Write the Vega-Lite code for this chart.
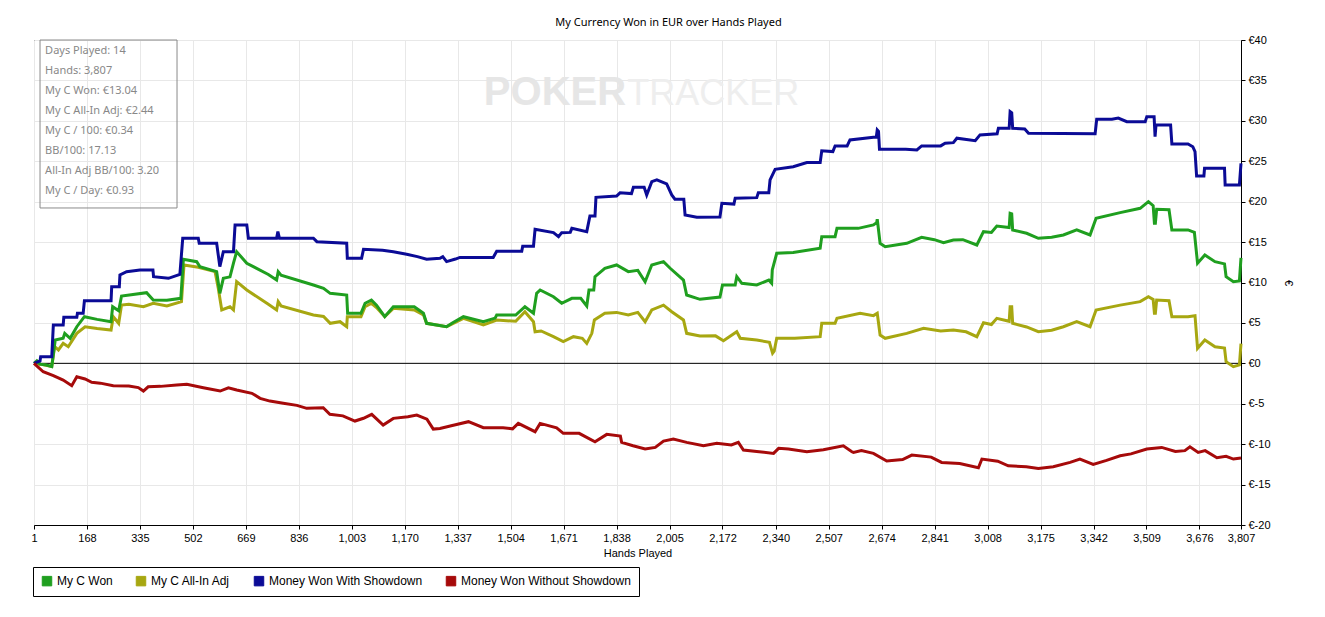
{
  "$schema": "https://vega.github.io/schema/vega-lite/v6.json",
  "width": 1207,
  "height": 485,
  "autosize": "none",
  "padding": {"left": 34, "top": 40, "right": 84, "bottom": 92},
  "background": "white",
  "title": {
    "text": "My Currency Won in EUR over Hands Played",
    "font": "Noto Sans", "fontSize": 11, "fontWeight": "normal", "color": "black",
    "anchor": "middle", "dx": 31, "offset": 6
  },
  "config": {
    "view": {"stroke": "black", "strokeWidth": 1},
    "axis": {
      "gridColor": "#e8e8e8", "domainColor": "black", "tickColor": "black", "tickSize": 4,
      "labelColor": "black", "labelFont": "Liberation Sans", "labelFontSize": 11,
      "titleFont": "Liberation Sans", "titleFontSize": 11, "titleFontWeight": "normal", "titleColor": "black"
    },
    "legend": {
      "orient": "none", "legendX": -1, "legendY": 527, "direction": "horizontal", "columns": 4,
      "columnPadding": 21, "padding": 8, "strokeColor": "black", "fillColor": "white",
      "symbolType": "square", "symbolSize": 90, "labelFont": "Liberation Sans", "labelFontSize": 12,
      "labelColor": "black", "labelOffset": 4, "labelLimit": 0
    }
  },
  "resolve": {"scale": {"y": "independent"}},
  "layer": [
    {
      "layer": [
        {
          "data": {"values": [{}]},
          "mark": {"type": "rule", "color": "black", "strokeWidth": 1},
          "encoding": {"y": {"datum": 0, "type": "quantitative"}}
        },
        {
          "data": {"values": [{}]},
          "mark": {"type": "text", "text": "POKER", "align": "right", "baseline": "alphabetic", "font": "Liberation Sans", "fontSize": 40, "fontWeight": "bold", "color": "#e6e6e6"},
          "encoding": {"x": {"datum": 1868, "type": "quantitative"}, "y": {"datum": 32, "type": "quantitative"}}
        },
        {
          "data": {"values": [{}]},
          "mark": {"type": "text", "text": "TRACKER", "align": "left", "baseline": "alphabetic", "font": "Liberation Sans", "fontSize": 36, "color": "#eeeeee"},
          "encoding": {"x": {"datum": 1872, "type": "quantitative"}, "y": {"datum": 32, "type": "quantitative"}}
        },
        {
          "data": {"values": [{}]},
          "mark": {"type": "rect", "fill": "transparent", "stroke": "#8a8a8a", "strokeWidth": 1},
          "encoding": {
            "x": {"datum": 20, "type": "quantitative"}, "x2": {"datum": 452},
            "y": {"datum": 40, "type": "quantitative"}, "y2": {"datum": 19.22}
          }
        },
        {
          "data": {"values": [
            {"hands": 1, "eur": 0}, {"hands": 20, "eur": -0.1}, {"hands": 57, "eur": -0.4}, {"hands": 65, "eur": 1.8},
            {"hands": 67, "eur": 2.05}, {"hands": 78, "eur": 1.65}, {"hands": 93, "eur": 2.47}, {"hands": 109, "eur": 2.05},
            {"hands": 136, "eur": 3.71}, {"hands": 162, "eur": 4.53}, {"hands": 200, "eur": 4.3}, {"hands": 244, "eur": 4.12},
            {"hands": 251, "eur": 5.77}, {"hands": 268, "eur": 4.95}, {"hands": 277, "eur": 7.2}, {"hands": 300, "eur": 7.3},
            {"hands": 346, "eur": 7.0}, {"hands": 377, "eur": 7.43}, {"hands": 420, "eur": 7.1}, {"hands": 466, "eur": 7.63},
            {"hands": 474, "eur": 12.17}, {"hands": 519, "eur": 11.88}, {"hands": 572, "eur": 11.34}, {"hands": 582, "eur": 9.28},
            {"hands": 593, "eur": 6.6}, {"hands": 619, "eur": 7.0}, {"hands": 630, "eur": 6.6}, {"hands": 640, "eur": 10.1},
            {"hands": 672, "eur": 9.07}, {"hands": 740, "eur": 7.3}, {"hands": 766, "eur": 6.6}, {"hands": 771, "eur": 7.63},
            {"hands": 780, "eur": 7.1}, {"hands": 882, "eur": 5.98}, {"hands": 914, "eur": 5.8}, {"hands": 935, "eur": 4.95},
            {"hands": 966, "eur": 5.15}, {"hands": 987, "eur": 4.53}, {"hands": 989, "eur": 5.77}, {"hands": 1032, "eur": 5.77},
            {"hands": 1045, "eur": 7.0}, {"hands": 1065, "eur": 7.43}, {"hands": 1081, "eur": 6.9}, {"hands": 1107, "eur": 5.77},
            {"hands": 1134, "eur": 6.8}, {"hands": 1200, "eur": 6.6}, {"hands": 1229, "eur": 6.0}, {"hands": 1239, "eur": 4.95},
            {"hands": 1302, "eur": 4.53}, {"hands": 1355, "eur": 5.57}, {"hands": 1418, "eur": 4.74}, {"hands": 1460, "eur": 5.36},
            {"hands": 1520, "eur": 5.2}, {"hands": 1549, "eur": 6.39}, {"hands": 1576, "eur": 5.15}, {"hands": 1581, "eur": 3.91},
            {"hands": 1600, "eur": 4.0}, {"hands": 1639, "eur": 3.3}, {"hands": 1670, "eur": 2.68}, {"hands": 1702, "eur": 3.3},
            {"hands": 1730, "eur": 3.1}, {"hands": 1744, "eur": 2.47}, {"hands": 1760, "eur": 3.71}, {"hands": 1768, "eur": 5.36},
            {"hands": 1801, "eur": 6.19}, {"hands": 1838, "eur": 6.3}, {"hands": 1875, "eur": 5.98}, {"hands": 1905, "eur": 6.3},
            {"hands": 1928, "eur": 5.15}, {"hands": 1949, "eur": 6.6}, {"hands": 1986, "eur": 7.2}, {"hands": 2012, "eur": 6.39},
            {"hands": 2049, "eur": 5.36}, {"hands": 2059, "eur": 3.71}, {"hands": 2101, "eur": 3.38}, {"hands": 2150, "eur": 3.4},
            {"hands": 2175, "eur": 2.8}, {"hands": 2217, "eur": 3.91}, {"hands": 2228, "eur": 3.1}, {"hands": 2280, "eur": 2.88},
            {"hands": 2320, "eur": 2.6}, {"hands": 2330, "eur": 1.24}, {"hands": 2335, "eur": 1.5}, {"hands": 2343, "eur": 3.1},
            {"hands": 2400, "eur": 3.1}, {"hands": 2480, "eur": 3.3}, {"hands": 2485, "eur": 4.95}, {"hands": 2527, "eur": 4.95},
            {"hands": 2533, "eur": 5.57}, {"hands": 2606, "eur": 6.19}, {"hands": 2648, "eur": 5.9}, {"hands": 2660, "eur": 6.19},
            {"hands": 2669, "eur": 3.5}, {"hands": 2685, "eur": 3.1}, {"hands": 2753, "eur": 3.71}, {"hands": 2806, "eur": 4.33},
            {"hands": 2860, "eur": 4.0}, {"hands": 2900, "eur": 4.12}, {"hands": 2940, "eur": 3.9}, {"hands": 2974, "eur": 3.3},
            {"hands": 2995, "eur": 5.02}, {"hands": 3020, "eur": 4.8}, {"hands": 3037, "eur": 5.57}, {"hands": 3076, "eur": 5.2},
            {"hands": 3079, "eur": 7.0}, {"hands": 3084, "eur": 7.0}, {"hands": 3087, "eur": 4.95}, {"hands": 3131, "eur": 4.5},
            {"hands": 3168, "eur": 3.91}, {"hands": 3210, "eur": 4.1}, {"hands": 3247, "eur": 4.53}, {"hands": 3289, "eur": 5.15},
            {"hands": 3331, "eur": 4.53}, {"hands": 3350, "eur": 6.6}, {"hands": 3426, "eur": 7.2}, {"hands": 3489, "eur": 7.63},
            {"hands": 3515, "eur": 8.24}, {"hands": 3530, "eur": 7.9}, {"hands": 3534, "eur": 6.19}, {"hands": 3537, "eur": 6.19},
            {"hands": 3541, "eur": 7.83}, {"hands": 3580, "eur": 7.75}, {"hands": 3589, "eur": 5.77}, {"hands": 3640, "eur": 5.77},
            {"hands": 3662, "eur": 5.9}, {"hands": 3670, "eur": 1.86}, {"hands": 3693, "eur": 2.88}, {"hands": 3725, "eur": 2.05},
            {"hands": 3755, "eur": 1.9}, {"hands": 3760, "eur": 0.2}, {"hands": 3783, "eur": -0.42}, {"hands": 3802, "eur": -0.2},
            {"hands": 3807, "eur": 2.44}
          ]},
          "mark": {"type": "line", "strokeWidth": 3},
          "encoding": {
            "x": {
              "field": "hands", "type": "quantitative",
              "scale": {"domain": [1, 3807], "nice": false, "zero": false},
              "axis": {
                "title": "Hands Played", "grid": true, "labelOverlap": false, "labelFlush": false, "labelPadding": 3, "titlePadding": 4,
                "values": [1, 168, 335, 502, 669, 836, 1003, 1170, 1337, 1504, 1671, 1838, 2005, 2172, 2340, 2507, 2674, 2841, 3008, 3175, 3342, 3509, 3676, 3807],
                "labelExpr": "format(datum.value, ',')"
              }
            },
            "y": {
              "field": "eur", "type": "quantitative",
              "scale": {"domain": [-20, 40], "nice": false, "zero": false},
              "axis": {
                "orient": "right", "title": "€", "grid": true, "labelPadding": 3, "titlePadding": 12,
                "values": [-20, -15, -10, -5, 0, 5, 10, 15, 20, 25, 30, 35, 40],
                "labelExpr": "'€' + datum.value"
              }
            },
            "color": {
              "datum": "My C All-In Adj", "type": "nominal",
              "scale": {
                "domain": ["My C Won", "My C All-In Adj", "Money Won With Showdown", "Money Won Without Showdown"],
                "range": ["#1f9f1f", "#a7a711", "#0b0b96", "#a60a0a"]
              },
              "legend": {
                "title": null,
                "encode": {"symbols": {"update": {"fill": {"scale": "color", "field": "value"}, "stroke": {"value": "#333333"}, "strokeWidth": {"value": 1}, "opacity": {"value": 1}}}}
              }
            }
          }
        },
        {
          "data": {"values": [
            {"hands": 1, "eur": 0}, {"hands": 10, "eur": 0.3}, {"hands": 20, "eur": -0.1}, {"hands": 40, "eur": -0.2},
            {"hands": 57, "eur": -0.4}, {"hands": 65, "eur": 2.0}, {"hands": 68, "eur": 2.88}, {"hands": 93, "eur": 3.1},
            {"hands": 98, "eur": 3.71}, {"hands": 115, "eur": 3.1}, {"hands": 136, "eur": 4.53}, {"hands": 160, "eur": 5.77},
            {"hands": 200, "eur": 5.44}, {"hands": 244, "eur": 5.15}, {"hands": 249, "eur": 7.0}, {"hands": 268, "eur": 6.5},
            {"hands": 277, "eur": 8.33}, {"hands": 356, "eur": 8.74}, {"hands": 377, "eur": 7.83}, {"hands": 420, "eur": 7.8},
            {"hands": 464, "eur": 8.04}, {"hands": 472, "eur": 12.87}, {"hands": 514, "eur": 12.57}, {"hands": 524, "eur": 11.96},
            {"hands": 577, "eur": 11.34}, {"hands": 587, "eur": 8.66}, {"hands": 598, "eur": 10.52}, {"hands": 619, "eur": 10.7},
            {"hands": 630, "eur": 12.4}, {"hands": 640, "eur": 13.81}, {"hands": 672, "eur": 12.38}, {"hands": 740, "eur": 11.0},
            {"hands": 766, "eur": 10.3}, {"hands": 771, "eur": 11.34}, {"hands": 780, "eur": 10.9}, {"hands": 882, "eur": 9.69},
            {"hands": 914, "eur": 9.28}, {"hands": 935, "eur": 8.66}, {"hands": 987, "eur": 8.45}, {"hands": 990, "eur": 6.19},
            {"hands": 1032, "eur": 6.19}, {"hands": 1045, "eur": 7.43}, {"hands": 1065, "eur": 7.83}, {"hands": 1081, "eur": 7.2},
            {"hands": 1107, "eur": 5.77}, {"hands": 1134, "eur": 7.0}, {"hands": 1200, "eur": 7.0}, {"hands": 1229, "eur": 6.19},
            {"hands": 1239, "eur": 4.95}, {"hands": 1302, "eur": 4.53}, {"hands": 1320, "eur": 5.0}, {"hands": 1355, "eur": 5.77},
            {"hands": 1418, "eur": 5.15}, {"hands": 1455, "eur": 5.6}, {"hands": 1460, "eur": 5.98}, {"hands": 1520, "eur": 5.98},
            {"hands": 1549, "eur": 7.0}, {"hands": 1576, "eur": 6.19}, {"hands": 1586, "eur": 8.66}, {"hands": 1597, "eur": 9.07},
            {"hands": 1639, "eur": 8.24}, {"hands": 1665, "eur": 7.43}, {"hands": 1697, "eur": 8.04}, {"hands": 1725, "eur": 8.04},
            {"hands": 1744, "eur": 7.09}, {"hands": 1751, "eur": 9.07}, {"hands": 1766, "eur": 9.07}, {"hands": 1770, "eur": 10.72},
            {"hands": 1801, "eur": 11.76}, {"hands": 1838, "eur": 12.17}, {"hands": 1875, "eur": 11.34}, {"hands": 1905, "eur": 11.5},
            {"hands": 1928, "eur": 10.1}, {"hands": 1949, "eur": 12.17}, {"hands": 1986, "eur": 12.58}, {"hands": 2007, "eur": 11.76},
            {"hands": 2049, "eur": 10.3}, {"hands": 2059, "eur": 8.45}, {"hands": 2101, "eur": 7.92}, {"hands": 2164, "eur": 8.2},
            {"hands": 2172, "eur": 9.69}, {"hands": 2212, "eur": 9.69}, {"hands": 2217, "eur": 10.72}, {"hands": 2233, "eur": 9.9},
            {"hands": 2280, "eur": 9.7}, {"hands": 2318, "eur": 10.3}, {"hands": 2327, "eur": 9.9}, {"hands": 2329, "eur": 11.55},
            {"hands": 2343, "eur": 13.61}, {"hands": 2395, "eur": 13.7}, {"hands": 2480, "eur": 14.23}, {"hands": 2485, "eur": 15.67},
            {"hands": 2527, "eur": 15.67}, {"hands": 2533, "eur": 16.7}, {"hands": 2600, "eur": 16.7}, {"hands": 2648, "eur": 17.12},
            {"hands": 2658, "eur": 17.4}, {"hands": 2660, "eur": 17.82}, {"hands": 2669, "eur": 14.85}, {"hands": 2685, "eur": 14.43},
            {"hands": 2753, "eur": 14.85}, {"hands": 2800, "eur": 15.59}, {"hands": 2840, "eur": 15.3}, {"hands": 2869, "eur": 14.93},
            {"hands": 2900, "eur": 15.26}, {"hands": 2930, "eur": 15.3}, {"hands": 2974, "eur": 14.64}, {"hands": 2995, "eur": 16.29},
            {"hands": 3020, "eur": 16.2}, {"hands": 3037, "eur": 16.99}, {"hands": 3076, "eur": 16.8}, {"hands": 3079, "eur": 18.56},
            {"hands": 3084, "eur": 18.5}, {"hands": 3087, "eur": 16.5}, {"hands": 3131, "eur": 16.09}, {"hands": 3168, "eur": 15.47},
            {"hands": 3210, "eur": 15.6}, {"hands": 3247, "eur": 15.88}, {"hands": 3289, "eur": 16.5}, {"hands": 3331, "eur": 15.88},
            {"hands": 3350, "eur": 17.94}, {"hands": 3426, "eur": 18.64}, {"hands": 3489, "eur": 19.18}, {"hands": 3515, "eur": 20.0},
            {"hands": 3530, "eur": 19.5}, {"hands": 3534, "eur": 17.33}, {"hands": 3537, "eur": 17.33}, {"hands": 3541, "eur": 19.06},
            {"hands": 3580, "eur": 19.0}, {"hands": 3589, "eur": 16.5}, {"hands": 3640, "eur": 16.5}, {"hands": 3660, "eur": 16.2},
            {"hands": 3670, "eur": 12.38}, {"hands": 3693, "eur": 13.4}, {"hands": 3725, "eur": 12.58}, {"hands": 3755, "eur": 12.3},
            {"hands": 3760, "eur": 10.72}, {"hands": 3783, "eur": 10.1}, {"hands": 3802, "eur": 10.2}, {"hands": 3807, "eur": 13.04}
          ]},
          "mark": {"type": "line", "strokeWidth": 3},
          "encoding": {
            "x": {"field": "hands", "type": "quantitative"},
            "y": {"field": "eur", "type": "quantitative"},
            "color": {"datum": "My C Won", "type": "nominal"}
          }
        },
        {
          "data": {"values": [
            {"hands": 1, "eur": 0}, {"hands": 20, "eur": 0.3}, {"hands": 22, "eur": 0.8}, {"hands": 57, "eur": 0.8},
            {"hands": 62, "eur": 4.74}, {"hands": 93, "eur": 4.74}, {"hands": 95, "eur": 5.69}, {"hands": 136, "eur": 5.69},
            {"hands": 138, "eur": 6.19}, {"hands": 156, "eur": 6.19}, {"hands": 160, "eur": 7.75}, {"hands": 244, "eur": 7.75},
            {"hands": 246, "eur": 9.48}, {"hands": 270, "eur": 9.48}, {"hands": 272, "eur": 10.93}, {"hands": 293, "eur": 11.34},
            {"hands": 335, "eur": 11.55}, {"hands": 376, "eur": 11.55}, {"hands": 378, "eur": 10.72}, {"hands": 425, "eur": 10.52},
            {"hands": 461, "eur": 11.0}, {"hands": 470, "eur": 15.47}, {"hands": 519, "eur": 15.47}, {"hands": 522, "eur": 14.85},
            {"hands": 577, "eur": 14.85}, {"hands": 587, "eur": 11.96}, {"hands": 598, "eur": 13.81}, {"hands": 630, "eur": 13.81},
            {"hands": 635, "eur": 17.12}, {"hands": 672, "eur": 17.12}, {"hands": 677, "eur": 15.47}, {"hands": 766, "eur": 15.47},
            {"hands": 770, "eur": 16.29}, {"hands": 775, "eur": 15.47}, {"hands": 882, "eur": 15.47}, {"hands": 893, "eur": 15.05},
            {"hands": 987, "eur": 14.85}, {"hands": 989, "eur": 13.0}, {"hands": 1034, "eur": 13.0}, {"hands": 1040, "eur": 14.1},
            {"hands": 1100, "eur": 14.0}, {"hands": 1134, "eur": 13.8}, {"hands": 1176, "eur": 13.5}, {"hands": 1210, "eur": 13.2},
            {"hands": 1239, "eur": 12.87}, {"hands": 1281, "eur": 13.0}, {"hands": 1290, "eur": 13.2}, {"hands": 1302, "eur": 12.58},
            {"hands": 1330, "eur": 12.9}, {"hands": 1344, "eur": 13.1}, {"hands": 1449, "eur": 13.1}, {"hands": 1460, "eur": 13.86},
            {"hands": 1539, "eur": 13.86}, {"hands": 1542, "eur": 14.5}, {"hands": 1576, "eur": 14.5}, {"hands": 1581, "eur": 16.58},
            {"hands": 1639, "eur": 16.17}, {"hands": 1655, "eur": 15.67}, {"hands": 1665, "eur": 16.17}, {"hands": 1692, "eur": 16.2},
            {"hands": 1697, "eur": 16.7}, {"hands": 1744, "eur": 16.29}, {"hands": 1754, "eur": 18.23}, {"hands": 1770, "eur": 18.23},
            {"hands": 1773, "eur": 20.54}, {"hands": 1838, "eur": 20.7}, {"hands": 1849, "eur": 21.1}, {"hands": 1885, "eur": 21.0},
            {"hands": 1891, "eur": 21.78}, {"hands": 1925, "eur": 21.78}, {"hands": 1933, "eur": 20.83}, {"hands": 1949, "eur": 22.48},
            {"hands": 1965, "eur": 22.69}, {"hands": 1996, "eur": 22.19}, {"hands": 2012, "eur": 20.83}, {"hands": 2022, "eur": 20.3},
            {"hands": 2050, "eur": 20.3}, {"hands": 2054, "eur": 18.35}, {"hands": 2091, "eur": 18.07}, {"hands": 2164, "eur": 18.1},
            {"hands": 2170, "eur": 19.8}, {"hands": 2208, "eur": 19.7}, {"hands": 2212, "eur": 20.42}, {"hands": 2280, "eur": 20.5},
            {"hands": 2285, "eur": 21.1}, {"hands": 2318, "eur": 21.1}, {"hands": 2322, "eur": 22.69}, {"hands": 2338, "eur": 24.0},
            {"hands": 2395, "eur": 24.33}, {"hands": 2438, "eur": 24.83}, {"hands": 2480, "eur": 24.83}, {"hands": 2485, "eur": 26.3},
            {"hands": 2520, "eur": 26.2}, {"hands": 2527, "eur": 26.9}, {"hands": 2565, "eur": 26.9}, {"hands": 2574, "eur": 27.64},
            {"hands": 2648, "eur": 27.97}, {"hands": 2657, "eur": 28.0}, {"hands": 2660, "eur": 28.87}, {"hands": 2664, "eur": 28.7},
            {"hands": 2667, "eur": 26.49}, {"hands": 2750, "eur": 26.49}, {"hands": 2785, "eur": 26.4}, {"hands": 2800, "eur": 26.9},
            {"hands": 2860, "eur": 26.9}, {"hands": 2874, "eur": 27.23}, {"hands": 2900, "eur": 27.3}, {"hands": 2911, "eur": 27.85},
            {"hands": 2969, "eur": 27.55}, {"hands": 2984, "eur": 28.26}, {"hands": 3038, "eur": 28.4}, {"hands": 3042, "eur": 29.08},
            {"hands": 3076, "eur": 29.08}, {"hands": 3079, "eur": 31.14}, {"hands": 3084, "eur": 31.0}, {"hands": 3087, "eur": 29.08},
            {"hands": 3125, "eur": 29.0}, {"hands": 3137, "eur": 28.47}, {"hands": 3347, "eur": 28.4}, {"hands": 3352, "eur": 30.2},
            {"hands": 3400, "eur": 30.2}, {"hands": 3420, "eur": 30.35}, {"hands": 3447, "eur": 29.9}, {"hands": 3505, "eur": 29.9},
            {"hands": 3510, "eur": 30.52}, {"hands": 3533, "eur": 30.52}, {"hands": 3536, "eur": 28.04}, {"hands": 3539, "eur": 29.49},
            {"hands": 3585, "eur": 29.49}, {"hands": 3589, "eur": 27.14}, {"hands": 3640, "eur": 27.14}, {"hands": 3655, "eur": 26.8},
            {"hands": 3662, "eur": 26.19}, {"hands": 3667, "eur": 23.18}, {"hands": 3690, "eur": 23.18}, {"hands": 3692, "eur": 24.13},
            {"hands": 3755, "eur": 24.13}, {"hands": 3757, "eur": 22.07}, {"hands": 3802, "eur": 22.07}, {"hands": 3807, "eur": 24.75}
          ]},
          "mark": {"type": "line", "strokeWidth": 3},
          "encoding": {
            "x": {"field": "hands", "type": "quantitative"},
            "y": {"field": "eur", "type": "quantitative"},
            "color": {"datum": "Money Won With Showdown", "type": "nominal"}
          }
        },
        {
          "data": {"values": [
            {"hands": 1, "eur": 0}, {"hands": 30, "eur": -1.04}, {"hands": 62, "eur": -1.53}, {"hands": 93, "eur": -2.07},
            {"hands": 120, "eur": -2.77}, {"hands": 136, "eur": -1.66}, {"hands": 162, "eur": -1.94}, {"hands": 183, "eur": -2.35},
            {"hands": 210, "eur": -2.45}, {"hands": 251, "eur": -2.77}, {"hands": 300, "eur": -2.8}, {"hands": 330, "eur": -3.0},
            {"hands": 346, "eur": -3.43}, {"hands": 361, "eur": -2.9}, {"hands": 400, "eur": -2.85}, {"hands": 451, "eur": -2.69},
            {"hands": 483, "eur": -2.6}, {"hands": 535, "eur": -3.02}, {"hands": 588, "eur": -3.43}, {"hands": 614, "eur": -3.02},
            {"hands": 640, "eur": -3.3}, {"hands": 688, "eur": -3.71}, {"hands": 714, "eur": -4.33}, {"hands": 745, "eur": -4.67},
            {"hands": 787, "eur": -4.95}, {"hands": 830, "eur": -5.2}, {"hands": 861, "eur": -5.57}, {"hands": 913, "eur": -5.5},
            {"hands": 934, "eur": -6.31}, {"hands": 975, "eur": -6.5}, {"hands": 1013, "eur": -7.14}, {"hands": 1040, "eur": -6.8},
            {"hands": 1066, "eur": -6.31}, {"hands": 1102, "eur": -7.64}, {"hands": 1134, "eur": -6.81}, {"hands": 1180, "eur": -6.6},
            {"hands": 1208, "eur": -6.4}, {"hands": 1240, "eur": -6.9}, {"hands": 1260, "eur": -8.13}, {"hands": 1281, "eur": -8.05},
            {"hands": 1320, "eur": -7.7}, {"hands": 1371, "eur": -7.22}, {"hands": 1418, "eur": -7.97}, {"hands": 1480, "eur": -7.97},
            {"hands": 1510, "eur": -8.1}, {"hands": 1528, "eur": -7.43}, {"hands": 1581, "eur": -8.46}, {"hands": 1597, "eur": -7.43},
            {"hands": 1649, "eur": -7.97}, {"hands": 1670, "eur": -8.66}, {"hands": 1720, "eur": -8.66}, {"hands": 1770, "eur": -9.7},
            {"hands": 1807, "eur": -8.79}, {"hands": 1850, "eur": -9.0}, {"hands": 1854, "eur": -9.78}, {"hands": 1890, "eur": -10.2},
            {"hands": 1928, "eur": -10.6}, {"hands": 1960, "eur": -10.4}, {"hands": 1986, "eur": -9.62}, {"hands": 2017, "eur": -9.37},
            {"hands": 2059, "eur": -9.78}, {"hands": 2112, "eur": -10.2}, {"hands": 2154, "eur": -9.9}, {"hands": 2200, "eur": -10.1},
            {"hands": 2222, "eur": -9.78}, {"hands": 2238, "eur": -10.73}, {"hands": 2280, "eur": -10.9}, {"hands": 2333, "eur": -11.14},
            {"hands": 2349, "eur": -10.52}, {"hands": 2380, "eur": -10.6}, {"hands": 2438, "eur": -10.94}, {"hands": 2490, "eur": -10.7},
            {"hands": 2553, "eur": -10.2}, {"hands": 2580, "eur": -10.94}, {"hands": 2585, "eur": -11.02}, {"hands": 2610, "eur": -10.8},
            {"hands": 2648, "eur": -11.14}, {"hands": 2690, "eur": -12.09}, {"hands": 2740, "eur": -11.9}, {"hands": 2769, "eur": -11.35},
            {"hands": 2830, "eur": -11.6}, {"hands": 2863, "eur": -12.26}, {"hands": 2920, "eur": -12.4}, {"hands": 2979, "eur": -12.92},
            {"hands": 2990, "eur": -11.84}, {"hands": 3040, "eur": -12.1}, {"hands": 3073, "eur": -12.67}, {"hands": 3130, "eur": -12.8},
            {"hands": 3168, "eur": -13.0}, {"hands": 3215, "eur": -12.8}, {"hands": 3268, "eur": -12.26}, {"hands": 3299, "eur": -11.84},
            {"hands": 3341, "eur": -12.5}, {"hands": 3383, "eur": -12.0}, {"hands": 3426, "eur": -11.43}, {"hands": 3460, "eur": -11.2},
            {"hands": 3510, "eur": -10.6}, {"hands": 3557, "eur": -10.4}, {"hands": 3600, "eur": -10.9}, {"hands": 3630, "eur": -10.8},
            {"hands": 3646, "eur": -10.32}, {"hands": 3672, "eur": -11.02}, {"hands": 3694, "eur": -10.8}, {"hands": 3731, "eur": -11.68},
            {"hands": 3760, "eur": -11.5}, {"hands": 3783, "eur": -11.84}, {"hands": 3807, "eur": -11.71}
          ]},
          "mark": {"type": "line", "strokeWidth": 3},
          "encoding": {
            "x": {"field": "hands", "type": "quantitative"},
            "y": {"field": "eur", "type": "quantitative"},
            "color": {"datum": "Money Won Without Showdown", "type": "nominal"}
          }
        }
      ]
    },
    {
      "data": {"values": [
        {"line": 1, "label": "Days Played: 14"},
        {"line": 2, "label": "Hands: 3,807"},
        {"line": 3, "label": "My C Won: €13.04"},
        {"line": 4, "label": "My C All-In Adj: €2.44"},
        {"line": 5, "label": "My C / 100: €0.34"},
        {"line": 6, "label": "BB/100: 17.13"},
        {"line": 7, "label": "All-In Adj BB/100: 3.20"},
        {"line": 8, "label": "My C / Day: €0.93"}
      ]},
      "mark": {"type": "text", "align": "left", "baseline": "middle", "font": "Noto Sans", "fontSize": 11, "color": "#888888"},
      "encoding": {
        "x": {"datum": 36, "type": "quantitative"},
        "y": {"field": "line", "type": "ordinal", "scale": {"type": "point", "range": [11, 151], "padding": 0}, "axis": null},
        "text": {"field": "label"}
      }
    }
  ]
}
